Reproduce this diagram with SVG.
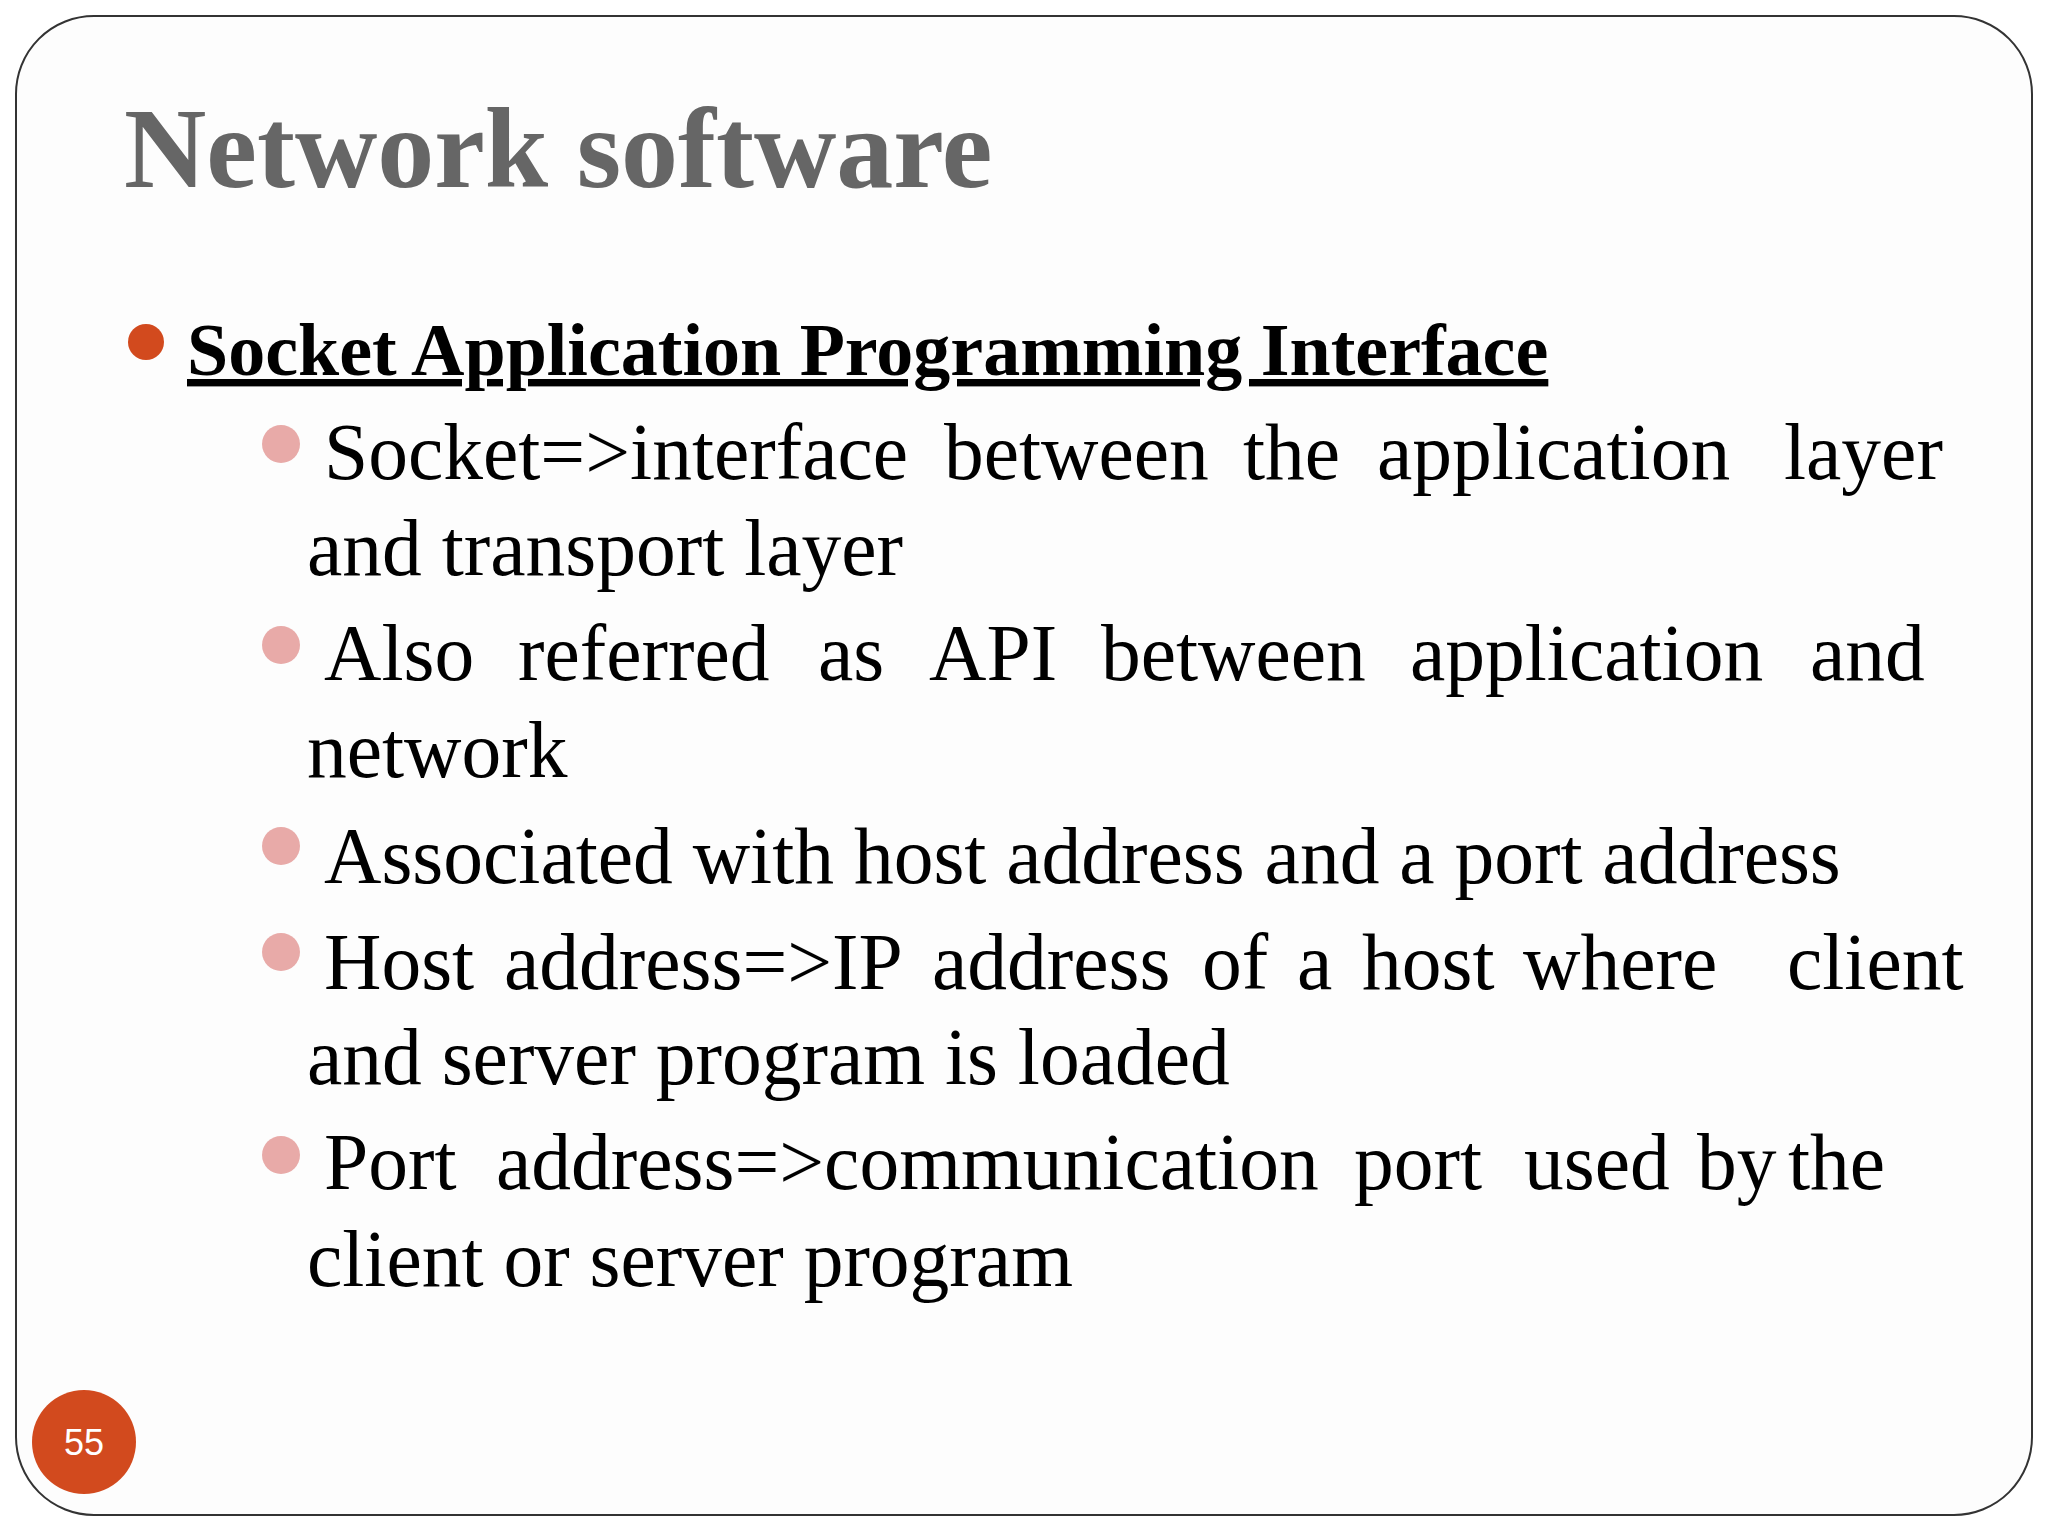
<svg xmlns="http://www.w3.org/2000/svg" width="2048" height="1536" viewBox="0 0 2048 1536">
<style>
.t{font-family:"Liberation Serif",serif;fill:#000;font-size:79.5px}
.pb{fill:#e8aaa8}
</style>
<rect width="2048" height="1536" fill="#fff"/>
<rect x="16" y="16" width="2016" height="1499" rx="78" fill="#fdfdfd" stroke="#333" stroke-width="2"/>
<g id="title"><text x="124" y="187" font-family="Liberation Serif,serif" font-weight="bold" font-size="114" fill="#666">Network software</text></g>
<g id="heading">
<circle cx="146" cy="342" r="18" fill="#d24a1e"/>
<text x="187" y="375" font-family="Liberation Serif,serif" font-weight="bold" font-size="74" text-decoration="underline">Socket Application Programming Interface</text>
</g>
<g id="items">
<circle class="pb" cx="281" cy="444" r="19"/>
<text class="t" y="479"><tspan x="324">Socket=&gt;interface</tspan><tspan x="944">between</tspan><tspan x="1243">the</tspan><tspan x="1377">application</tspan><tspan x="1784">layer</tspan></text>
<text class="t" x="307" y="575">and transport layer</text>
<circle class="pb" cx="281" cy="645" r="19"/>
<text class="t" y="680"><tspan x="324">Also</tspan><tspan x="518">referred</tspan><tspan x="818">as</tspan><tspan x="929">API</tspan><tspan x="1101">between</tspan><tspan x="1410">application</tspan><tspan x="1810">and</tspan></text>
<text class="t" x="307" y="777">network</text>
<circle class="pb" cx="281" cy="846" r="19"/>
<text class="t" x="324" y="883">Associated with host address and a port address</text>
<circle class="pb" cx="281" cy="952" r="19"/>
<text class="t" y="989"><tspan x="324">Host</tspan><tspan x="504">address=&gt;IP</tspan><tspan x="932">address</tspan><tspan x="1202">of</tspan><tspan x="1297">a</tspan><tspan x="1362">host</tspan><tspan x="1523">where</tspan><tspan x="1787">client</tspan></text>
<text class="t" x="307" y="1084">and server program is loaded</text>
<circle class="pb" cx="281" cy="1155" r="19"/>
<text class="t" y="1189"><tspan x="324">Port</tspan><tspan x="496">address=&gt;communication</tspan><tspan x="1354">port</tspan><tspan x="1524">used</tspan><tspan x="1697">by</tspan><tspan x="1788">the</tspan></text>
<text class="t" x="307" y="1286">client or server program</text>
</g>
<g id="page">
<circle cx="84" cy="1442" r="52" fill="#d24a1e"/>
<text x="84" y="1455" text-anchor="middle" font-family="Liberation Sans,sans-serif" font-size="36" fill="#fff">55</text>
</g>
</svg>
